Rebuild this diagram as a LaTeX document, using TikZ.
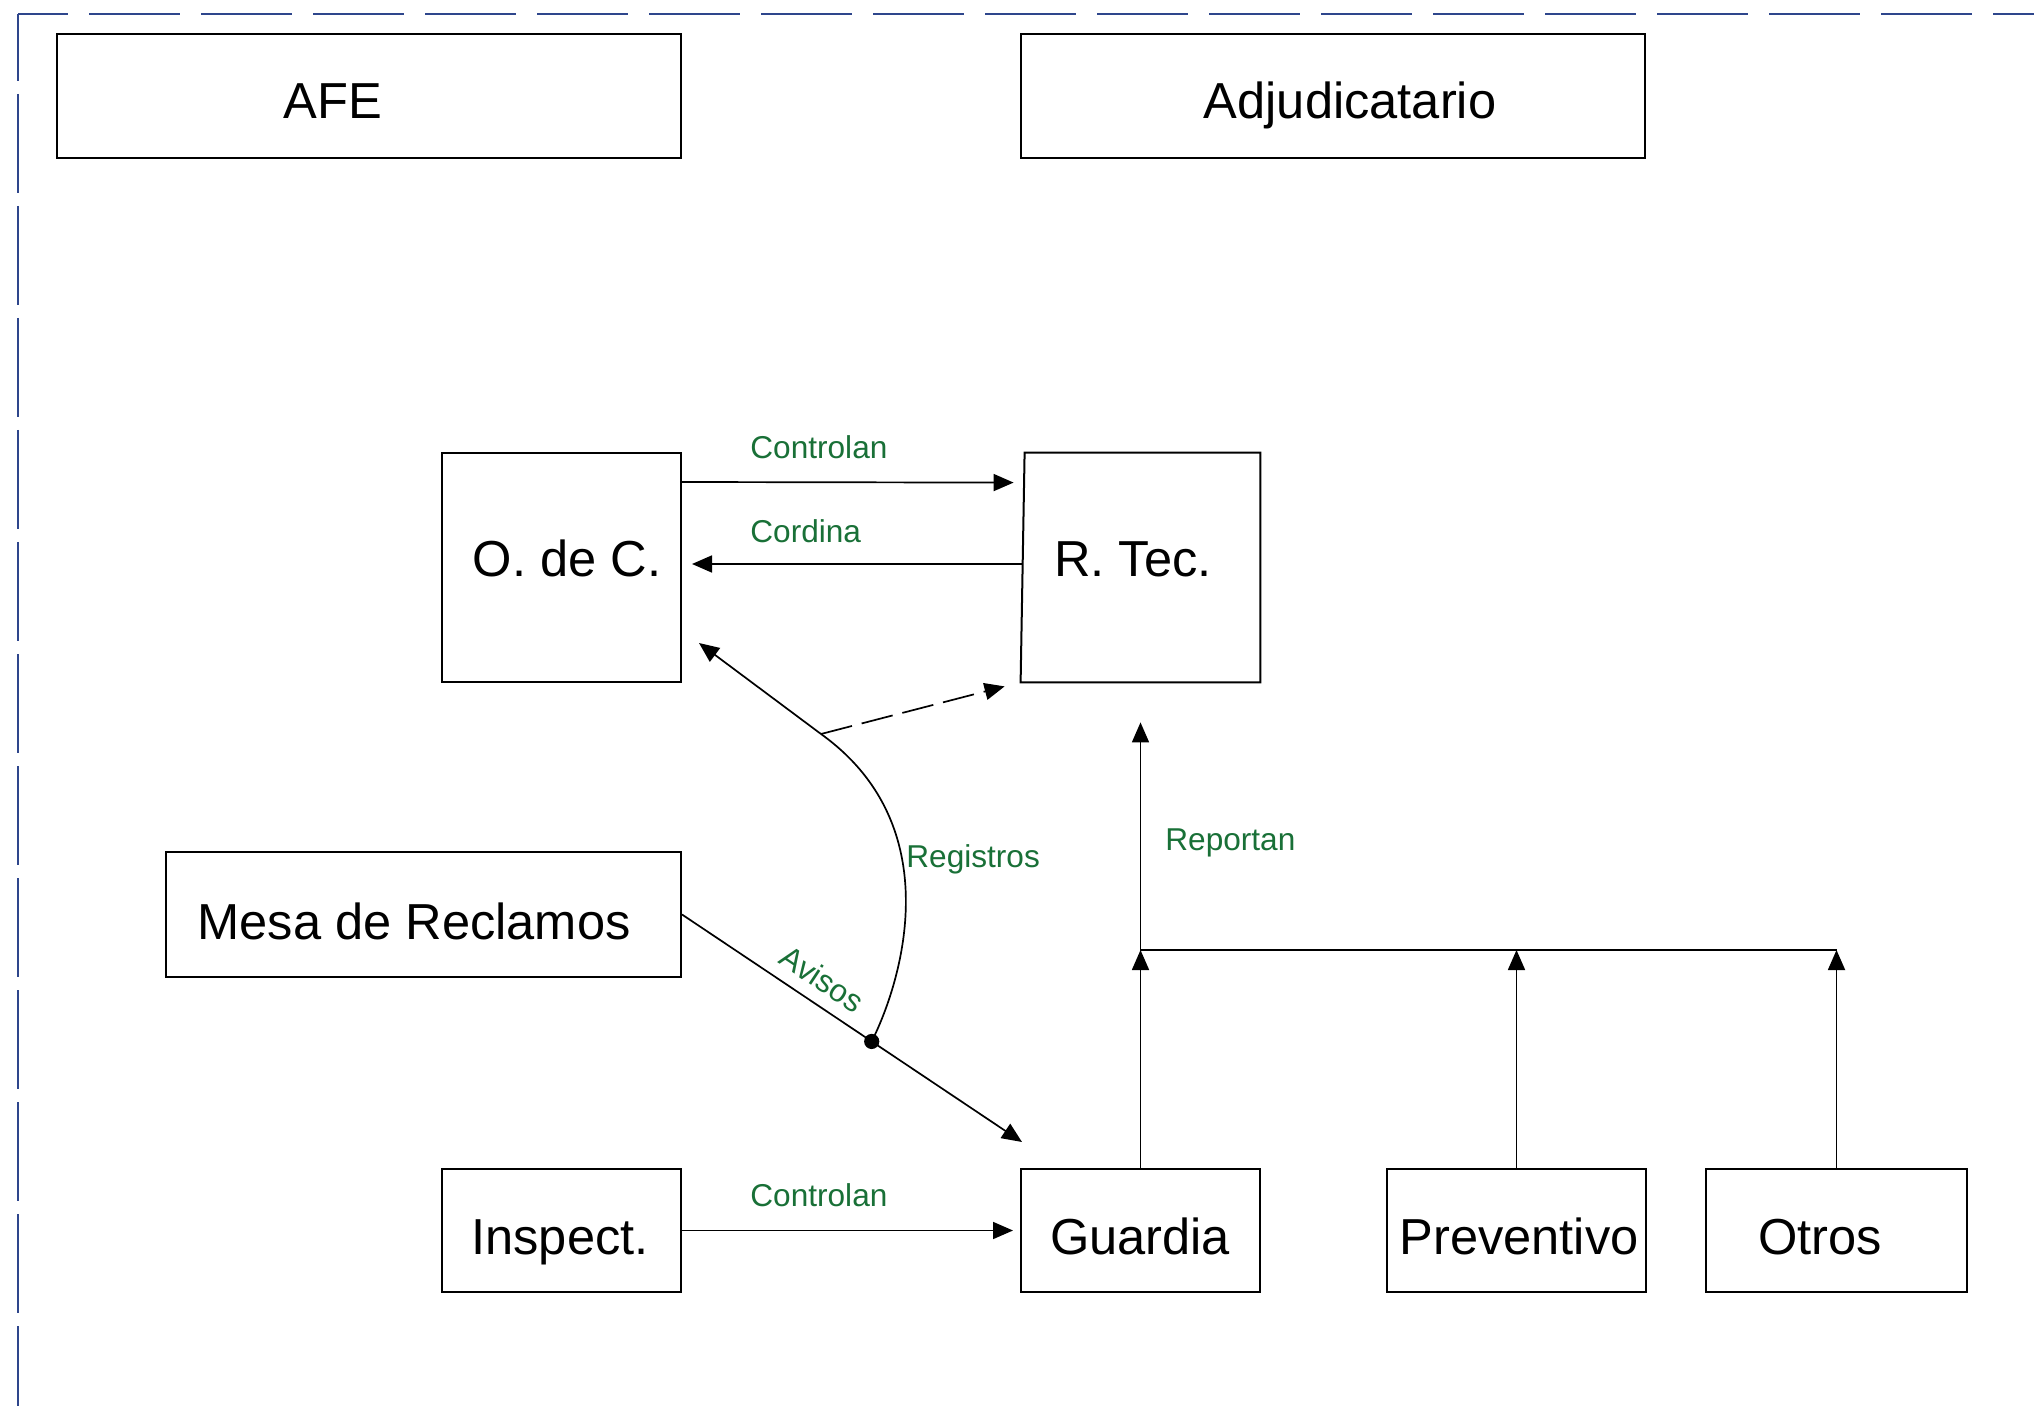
\documentclass[tikz,border=0pt]{standalone}
\usepackage{fontspec}
\setmainfont{Liberation Sans}
\usetikzlibrary{arrows.meta,calc}
\definecolor{lblgreen}{RGB}{25,112,55}
\definecolor{bordblue}{RGB}{46,70,140}
\begin{document}
\begin{tikzpicture}[x=0.5pt,y=-0.5pt,
  box/.style={draw,line width=1pt,inner sep=0pt,rectangle},
  boxtxt/.style={font=\fontsize{25.3pt}{30pt}\selectfont,inner sep=0pt,anchor=base},
  lbl/.style={font=\fontsize{15.8pt}{19pt}\selectfont,text=lblgreen,inner sep=0pt,anchor=base west},
  conn/.style={line width=0.85pt},
  arr/.style={conn,-{Triangle[length=10pt,width=8.5pt]}},
  border/.style={bordblue,line width=1pt}
]
\useasboundingbox (0,0) rectangle (2034,1406);

% dashed frame
\draw[border,dash pattern=on 45.5pt off 10.5pt,dash phase=20.5pt] (18,14) -- (2050,14);
\draw[border,dash pattern=on 49.5pt off 6.5pt,dash phase=16pt] (18,14) -- (18,1420);

% boxes
\node[box,minimum width=312pt,minimum height=62pt] (afe) at (369,96) {};
\node[box,minimum width=312pt,minimum height=62pt] (adj) at (1333,96) {};
\node[box,minimum width=119.5pt,minimum height=114.5pt] (odc) at (561.5,567.5) {};
\node[inner sep=0pt,minimum width=119.5pt,minimum height=114.5pt] (rtec) at (1140.5,567.5) {};
\draw[line width=1pt] ($(rtec.north west)+(4,0)$) -- (rtec.north east) -- (rtec.south east) -- (rtec.south west) -- cycle;
\node[box,minimum width=257.5pt,minimum height=62.5pt] (mesa) at (423.5,914.5) {};
\node[box,minimum width=119.5pt,minimum height=61.5pt] (insp) at (561.5,1230.5) {};
\node[box,minimum width=119.5pt,minimum height=61.5pt] (guard) at (1140.5,1230.5) {};
\node[box,minimum width=129.5pt,minimum height=61.5pt] (prev) at (1516.5,1230.5) {};
\node[box,minimum width=130.5pt,minimum height=61.5pt] (otros) at (1836.5,1230.5) {};

% box texts
\node[boxtxt] (tafe) at (333,119) {AFE};
\node[boxtxt] (tadj) at (1350,119) {Adjudicatario};
\node[boxtxt] (todc) at (567,577) {O. de C.};
\node[boxtxt] (trtec) at (1133,577) {R. Tec.};
\node[boxtxt] (tmesa) at (414,939) {Mesa de Reclamos};
\node[boxtxt] (tinsp) at (560,1254) {Inspect.};
\node[boxtxt] (tguard) at (1140,1254) {Guardia};
\node[boxtxt] (tprev) at (1519,1254) {Preventivo};
\node[boxtxt] (totros) at (1820,1254) {Otros};

% connectors
\draw[arr] ($(odc.north east)+(0,30)$) -- ($(rtec.north west)+(-7,30)$);
\draw[arr] ($(rtec.west)+(2,-3.5)$) -- ($(odc.east)+(10,-3.5)$);

\coordinate (avtip) at ($(guard.north west)+(2,-26)$);
\draw[arr] (mesa.east) -- (avtip);
\coordinate (dot) at ($(mesa.east)!0.558!(avtip)$);
\fill (dot) circle (3.8pt);

\coordinate (split) at ($(odc.south east)+(139,51)$);
\draw[arr] (dot) .. controls ($(dot)+(30,-60)$) and ($(dot)+(78,-215)$) .. (split) -- ($(odc.south east)+(17,-40)$);
\draw[arr,dash pattern=on 16pt off 5pt] (split) -- ($(rtec.south west)+(-16,4)$);

\draw[arr] (insp.east) -- ($(guard.west)+(-7,0)$);

\draw[arr] (guard.north) -- ($(rtec.south)+(0,40)$);
\coordinate (busL) at ($(guard.north)+(0,-218)$);
\coordinate (busR) at ($(otros.north)+(0,-218)$);
\draw[conn] (busL) -- (busR);
\draw[arr] (guard.north) -- (busL);
\draw[arr] (prev.north) -- (prev.north |- busL);
\draw[arr] (otros.north) -- (busR);

% labels
\node[lbl] (lctrl1) at (750,459) {Controlan};
\node[lbl] (lcord) at (750,543) {Cordina};
\node[lbl] (lreg) at (906,867) {Registros};
\node[lbl] (lctrl2) at (750,1206) {Controlan};
\node[lbl] (lrep) at (1165,850) {Reportan};
\node[font=\fontsize{15.8pt}{19pt}\selectfont,text=lblgreen,inner sep=0pt,rotate=-33.5] (lav) at (822,979) {Avisos};
\end{tikzpicture}
\end{document}
